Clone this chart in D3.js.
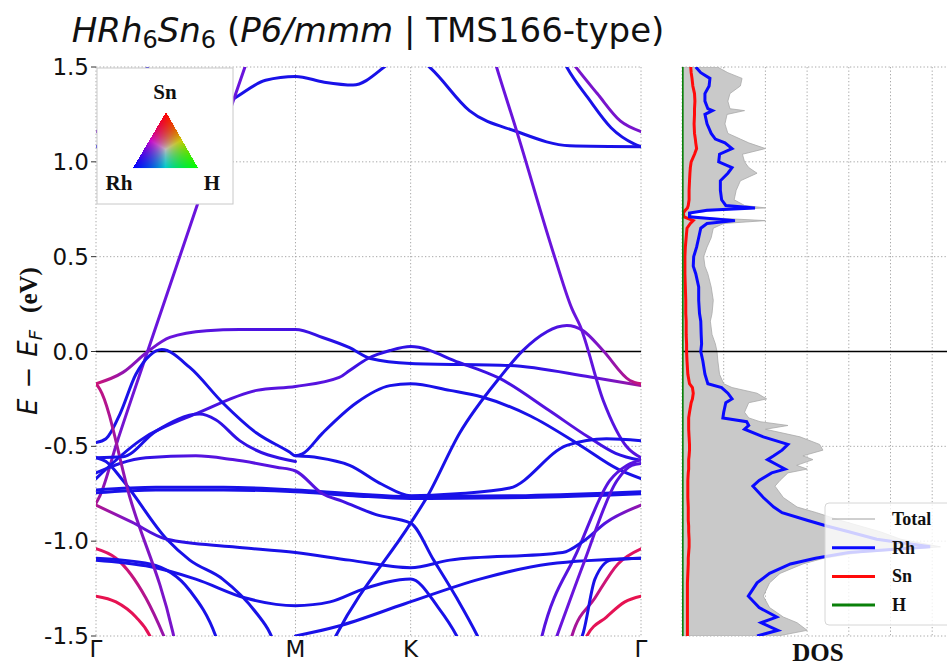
<!DOCTYPE html>
<html><head><meta charset="utf-8">
<script src="https://cdn.jsdelivr.net/npm/d3@7"></script>
<style>body{margin:0;background:#fff}svg{display:block}</style>
</head><body><svg id="chart" width="947" height="668"></svg>
<script>
// ---- k-path and axes ----
const kLabels = ["Γ", "M", "K", "Γ"];
const kDist = [0, 0.866, 1.366, 2.366];          // cumulative path length at Γ, M, K, Γ
const eTicks = [-1.5, -1.0, -0.5, 0.0, 0.5, 1.0, 1.5];
const eTickLabels = ["-1.5", "-1.0", "-0.5", "0.0", "0.5", "1.0", "1.5"];

// ---- bands: [path index (Γ=0, M=1, K=2, Γ=3), E - E_F (eV), Sn weight] ----
const band01 = [[0,1.08,.1],[0.3,1.17,.1],[0.685,1.33,.1],[0.85,1.43,.1],[1,1.45,.1],[1.25,1.42,.1],[1.5,1.405,.1],[1.77,1.5,.1],[1.95,1.6,.1],[2.09,1.49,.1],[2.255,1.27,.1],[2.46,1.16,.1],[2.69,1.085,.1],[3,1.08,.1]];
const band02 = [[0,1.16,.4],[0.1,1.22,.4],[0.2,1.36,.4],[0.32,1.6,.4],[2.6,1.7,.4],[2.72,1.495,.4],[2.81,1.36,.4],[2.91,1.216,.4],[3,1.16,.4]];
const band03 = [[0,1.08,.1],[0.1,1.12,.1],[0.2,1.28,.1],[0.3,1.6,.1],[2.6,1.7,.1],[2.68,1.495,.1],[2.77,1.337,.1],[2.87,1.18,.1],[2.97,1.095,.1],[3,1.08,.1]];
const band04 = [[0,-0.80,.6],[0.02,-0.76,.5],[0.105,-0.48,.4],[0.26,0.005,.35],[0.51,0.78,.35],[0.745,1.495,.35],[0.8,1.66,.35]];
const band05 = [[2.3,1.8,.35],[2.374,1.495,.35],[2.46,1.163,.35],[2.626,0.495,.35],[2.7,0.226,.35],[2.735,0.137,.35],[2.836,-0.258,.3],[2.94,-0.505,.3],[3,-0.56,.3]];
const band06 = [[0,-0.17,.7],[0.135,-0.11,.5],[0.26,0.0,.4],[0.37,0.074,.35],[0.555,0.11,.3],[0.72,0.116,.28],[1,0.116,.25],[1.235,0.074,.2],[1.47,0.02,.15],[1.65,-0.037,.1],[2,-0.063,.1],[2.43,-0.074,.15],[2.78,-0.135,.3],[3,-0.18,.55]];
const band07 = [[0,-0.67,.1],[0.22,-0.47,.15],[0.52,-0.32,.25],[0.805,-0.205,.3],[1,-0.184,.3],[1.38,-0.137,.3],[1.47,-0.1,.25],[1.63,-0.037,.2],[1.82,0.005,.2],[2,0.026,.2],[2.21,-0.058,.2],[2.387,-0.142,.25],[2.6,-0.31,.3],[2.77,-0.45,.3],[2.89,-0.537,.2],[3,-0.574,.15]];
const band08 = [[0,-0.48,.1],[0.05,-0.46,.1],[0.12,-0.33,.1],[0.2,-0.12,.1],[0.27,-0.02,.1],[0.33,0.01,.1],[0.47,-0.084,.1],[0.635,-0.27,.1],[0.805,-0.43,.1],[0.97,-0.53,.1],[1,-0.55,.1],[1.06,-0.54,.1],[1.235,-0.43,.1],[1.53,-0.27,.1],[1.82,-0.18,.1],[2,-0.17,.1],[2.17,-0.205,.1],[2.31,-0.24,.1],[2.52,-0.34,.1],[2.73,-0.49,.1],[2.9,-0.62,.1],[3,-0.67,.1]];
const band09 = [[1.3,-1.56,.1],[1.35,-1.5,.1],[2,-0.905,.1],[2.07,-0.77,.1],[2.213,-0.43,.1],[2.387,-0.137,.15],[2.487,0.005,.2],[2.678,0.137,.3],[2.748,0.11,.35],[2.835,0.005,.45],[2.952,-0.153,.6],[3,-0.17,.7]];
const band10 = [[1,-0.55,.1],[1.2,-0.56,.1],[1.47,-0.6,.1],[1.75,-0.7,.1],[2,-0.76,.1],[2.2,-0.75,.1],[2.43,-0.72,.1],[2.678,-0.495,.1],[2.85,-0.46,.1],[3,-0.47,.1]];
const band11 = [[0,-0.73,.1],[0.3,-0.716,.1],[0.64,-0.716,.1],[1,-0.73,.1],[1.5,-0.75,.1],[2,-0.765,.1],[2.5,-0.76,.1],[3,-0.74,.1]];
const band12 = [[0,-0.745,.1],[0.3,-0.73,.1],[0.64,-0.73,.1],[1,-0.74,.1],[1.5,-0.76,.1],[2,-0.775,.1],[2.5,-0.77,.1],[3,-0.75,.1]];
const band13 = [[0,-1.04,.8],[0.1,-1.09,.75],[0.25,-1.3,.6],[0.34,-1.5,.5],[0.36,-1.55,.5]];
const band14 = [[0,-1.29,.9],[0.1,-1.32,.88],[0.2,-1.4,.85],[0.27,-1.5,.85],[0.29,-1.55,.85]];
const band15 = [[0,-1.09,.1],[0.27,-1.12,.1],[0.47,-1.26,.1],[0.6,-1.5,.1],[0.62,-1.56,.1]];
const band16 = [[0,-1.1,.1],[0.25,-1.13,.1],[0.5,-1.2,.1],[0.75,-1.3,.1],[1,-1.34,.1],[1.3,-1.32,.1],[1.6,-1.25,.1],[2,-1.2,.1],[2.12,-1.35,.1],[2.2,-1.5,.1],[2.22,-1.55,.1]];
const band17 = [[2.75,-1.55,.85],[2.765,-1.5,.85],[2.85,-1.4,.85],[2.93,-1.32,.88],[3,-1.29,.9]];
const band18 = [[2.69,-1.55,.55],[2.7,-1.5,.55],[2.8,-1.3,.65],[2.9,-1.12,.75],[3,-1.04,.8]];
const band19 = [[2.56,-1.55,.3],[2.57,-1.5,.3],[2.725,-1.05,.3],[2.865,-0.68,.3],[2.94,-0.6,.3],[3,-0.57,.3]];
const band20 = [[0,-0.56,.1],[0.05,-0.58,.1],[0.135,-0.68,.1],[0.355,-0.99,.1],[0.47,-1.1,.1],[0.635,-1.2,.1],[0.805,-1.38,.1],[0.87,-1.48,.1],[0.9,-1.55,.1]];
const band21 = [[0,-0.64,.1],[0.25,-0.56,.2],[0.5,-0.55,.3],[0.685,-0.57,.3],[0.905,-0.61,.3],[1,-0.63,.3],[1.235,-0.75,.3],[1.41,-0.79,.25],[1.7,-0.86,.1],[2,-0.905,.1],[2.1,-1.1,.1],[2.2,-1.3,.1],[2.29,-1.5,.1],[2.31,-1.55,.1]];
const band22 = [[1,-1.5,.1],[1.36,-1.45,.1],[1.95,-1.33,.1],[2.3,-1.2,.1],[2.6,-1.12,.1],[3,-1.09,.1]];
const band23 = [[0,-0.17,.7],[0.02,-0.2,.65],[0.17,-0.77,.45],[0.385,-1.48,.4],[0.4,-1.55,.4]];
const band24 = [[0,-0.56,.1],[0.135,-0.555,.1],[0.3,-0.42,.15],[0.52,-0.33,.2],[0.6,-0.36,.2],[0.72,-0.47,.2],[1,-0.58,.2]];
const band25 = [[0,-0.81,.6],[0.18,-0.9,.4],[0.355,-0.99,.2],[0.685,-1.03,.1],[1,-1.06,.1],[1.47,-1.1,.1],[2,-1.14,.1],[2.17,-1.1,.1],[2.66,-1.06,.1],[2.75,-1.0,.15],[2.85,-0.9,.3],[3,-0.81,.5]];
const band26 = [[2.62,-1.55,.35],[2.635,-1.5,.35],[2.75,-1.12,.35],[2.896,-0.68,.3],[2.96,-0.6,.3],[3,-0.59,.3]];
const band27 = [[2.73,-1.55,.1],[2.75,-1.48,.1],[2.8,-1.2,.1],[2.87,-1.1,.1],[3,-1.09,.1]];
const bands = [band01,band02,band03,band04,band05,band06,band07,band08,band09,band10,band11,band12,band13,band14,
               band15,band16,band17,band18,band19,band20,band21,band22,band23,band24,band25,band26,band27];

// ---- density of states (states/eV) ----
const dosEnergy = [1.50,1.47,1.44,1.40,1.36,1.32,1.28,1.27,1.25,1.20,1.15,1.12,1.10,1.07,1.04,1.00,0.97,0.94,0.90,0.85,0.80,0.77,0.757,0.745,0.73,0.71,0.69,0.675,0.65,0.60,0.55,0.50,0.45,0.41,0.34,0.27,0.20,0.16,0.09,0.04,0.00,-0.05,-0.12,-0.17,-0.19,-0.22,-0.25,-0.27,-0.32,-0.35,-0.37,-0.39,-0.41,-0.45,-0.49,-0.52,-0.55,-0.57,-0.60,-0.62,-0.64,-0.68,-0.71,-0.77,-0.82,-0.85,-0.89,-0.92,-0.95,-0.99,-1.03,-1.06,-1.09,-1.12,-1.17,-1.22,-1.29,-1.35,-1.40,-1.43,-1.47,-1.50];
const dosTotal  = [0.85,1.10,1.44,1.40,1.15,1.10,1.15,1.50,1.08,1.03,1.10,1.40,1.60,2.00,1.45,1.50,1.60,1.80,1.40,1.30,1.25,1.50,2.00,0.90,0.20,0.25,2.00,1.00,0.75,0.70,0.60,0.52,0.55,0.62,0.70,0.75,0.72,0.68,0.72,0.80,0.84,0.86,0.90,1.00,1.20,1.80,2.03,1.60,1.50,1.60,1.87,2.54,2.00,2.83,3.30,3.38,2.90,3.14,2.75,3.00,2.54,2.35,2.23,2.43,2.76,3.23,3.79,4.27,4.75,5.25,6.20,4.27,3.40,2.90,2.35,2.10,1.95,2.10,2.43,2.76,3.00,2.30];
const dosRh     = [0.33,0.45,0.67,0.65,0.55,0.55,0.62,0.73,0.55,0.60,0.70,0.80,1.03,1.20,0.90,0.88,1.20,1.10,0.92,0.92,0.95,1.05,1.75,0.60,0.18,0.18,1.27,0.60,0.45,0.40,0.35,0.28,0.27,0.33,0.40,0.40,0.42,0.45,0.46,0.47,0.45,0.50,0.55,0.62,0.95,1.10,1.20,1.05,1.00,0.98,1.55,1.60,1.50,1.95,2.54,2.40,2.20,2.05,2.30,2.47,2.15,1.85,1.70,1.95,2.20,2.40,3.00,3.47,4.00,4.67,5.95,4.00,3.20,2.60,2.10,1.80,1.59,1.85,2.27,1.90,2.30,1.80];
const dosSn     = [0.21,0.22,0.24,0.26,0.30,0.31,0.30,0.30,0.30,0.29,0.30,0.32,0.33,0.35,0.30,0.22,0.20,0.19,0.18,0.17,0.17,0.15,0.13,0.08,0.03,0.05,0.27,0.20,0.12,0.10,0.08,0.07,0.07,0.07,0.08,0.09,0.09,0.10,0.10,0.11,0.11,0.12,0.14,0.18,0.25,0.27,0.25,0.22,0.18,0.16,0.16,0.16,0.16,0.17,0.18,0.18,0.17,0.16,0.16,0.16,0.15,0.14,0.14,0.14,0.15,0.15,0.15,0.16,0.16,0.17,0.17,0.16,0.15,0.15,0.14,0.13,0.13,0.13,0.13,0.13,0.13,0.13];
const hEnergy = [1.50, 0.70, 0.00, -0.70, -1.50];
const dosH    = [0.01, 0.01, 0.01, 0.01, 0.01];
const dosTicks = [0, 1, 2, 3, 4, 5, 6];

const legendNames = ["Total", "Rh", "Sn", "H"];
const legendColors = ["#a0a0a0", "#0a0aff", "#ff0a0a", "#0a800a"];

// ---- layout ----
const svg = d3.select("#chart");
const P = {l: 96, r: 641, t: 67, b: 636};
const D = {l: 682, r: 682 + 6.7 * 41.7};

const idxToK = d3.scaleLinear().domain([0, 1, 2, 3]).range(kDist);
const x = d3.scaleLinear().domain([0, kDist[3]]).range([P.l, P.r]);
const y = d3.scaleLinear().domain([-1.5, 1.5]).range([P.b, P.t]);
const xd = d3.scaleLinear().domain([0, 6.7]).range([D.l, D.r]);

const gridStyle = s => s.attr("stroke", "#a8a8a8").attr("stroke-width", 1).attr("stroke-dasharray", "1.3,2.2").attr("fill", "none");

const defs = svg.append("defs");
defs.append("clipPath").attr("id", "bandClip").append("rect")
  .attr("x", P.l).attr("y", P.t).attr("width", P.r - P.l).attr("height", P.b - P.t);
defs.append("clipPath").attr("id", "dosClip").append("rect")
  .attr("x", D.l).attr("y", P.t).attr("width", D.r - D.l).attr("height", P.b - P.t);

// ---- band panel grid ----
const gB = svg.append("g");
gB.selectAll("line.vg").data(kDist).join("line")
  .attr("x1", d => x(d)).attr("x2", d => x(d)).attr("y1", P.t).attr("y2", P.b).call(gridStyle);
gB.selectAll("line.hg").data(eTicks.filter(e => e !== 0)).join("line")
  .attr("x1", P.l).attr("x2", P.r).attr("y1", d => y(d)).attr("y2", d => y(d)).call(gridStyle);
gB.append("line").attr("x1", P.l).attr("x2", P.r).attr("y1", y(0)).attr("y2", y(0))
  .attr("stroke", "#000").attr("stroke-width", 1.3);

// ---- bands with colour graded by Sn weight ----
const snColor = d3.scaleLinear().domain([0, 0.15, 0.35, 0.55, 0.75, 1])
  .range(["#1212e8", "#1c10e8", "#6a14dc", "#a2149c", "#dc1468", "#f0103c"]).interpolate(d3.interpolateRgb);
const line = d3.line().x(d => x(idxToK(d[0]))).y(d => y(d[1])).curve(d3.curveMonotoneX);
const gLines = svg.append("g").attr("clip-path", "url(#bandClip)");
bands.forEach((b, i) => {
  const xs = b.map(d => x(idxToK(d[0])));
  const x0 = d3.min(xs), x1 = d3.max(xs);
  const grad = defs.append("linearGradient").attr("id", "bg" + i)
    .attr("gradientUnits", "userSpaceOnUse").attr("x1", x0).attr("x2", x1).attr("y1", 0).attr("y2", 0);
  b.forEach((d, j) => grad.append("stop")
    .attr("offset", (xs[j] - x0) / Math.max(1e-6, x1 - x0)).attr("stop-color", snColor(d[2])));
  gLines.append("path").attr("d", line(b)).attr("fill", "none")
    .attr("stroke", `url(#bg${i})`).attr("stroke-width", 3).attr("stroke-linecap", "round");
});

// ---- band panel axes ----
svg.append("g").selectAll("line").data(eTicks).join("line")
  .attr("x1", P.l - 5).attr("x2", P.l).attr("y1", d => y(d)).attr("y2", d => y(d))
  .attr("stroke", "#333").attr("stroke-width", 1);
svg.append("g").selectAll("text").data(eTicks).join("text")
  .attr("x", P.l - 7).attr("y", d => y(d) + 8).attr("text-anchor", "end")
  .style("font-family", "DejaVu Sans").style("font-size", "23px").attr("fill", "#111")
  .text((d, i) => eTickLabels[i]);
svg.append("g").selectAll("text").data(kDist).join("text")
  .attr("x", d => x(d)).attr("y", 657).attr("text-anchor", "middle")
  .style("font-family", "DejaVu Sans").style("font-size", "23px").attr("fill", "#111")
  .text((d, i) => kLabels[i]);

// y-axis title
const yl = svg.append("text").attr("transform", "translate(37,341) rotate(-90)")
  .attr("text-anchor", "middle").attr("fill", "#111");
yl.append("tspan").style("font-family", "DejaVu Sans").style("font-style", "italic").style("font-size", "26px").text("E");
yl.append("tspan").style("font-family", "DejaVu Sans").style("font-size", "26px").attr("dx", 10).text("−");
yl.append("tspan").style("font-family", "DejaVu Sans").style("font-style", "italic").style("font-size", "26px").attr("dx", 10).text("E");
yl.append("tspan").style("font-family", "DejaVu Sans").style("font-style", "italic").style("font-size", "18px").attr("dy", 5).text("F");
yl.append("tspan").style("font-family", "Liberation Serif").style("font-weight", "bold").style("font-size", "25px").attr("dy", -5).attr("dx", 17).text("(eV)");

// title
const tt = svg.append("text").attr("x", 368).attr("y", 42).attr("text-anchor", "middle")
  .style("font-family", "DejaVu Sans").style("font-size", "34px").attr("fill", "#111");
tt.append("tspan").style("font-style", "italic").text("HRh");
tt.append("tspan").style("font-size", "24px").attr("dy", 6).text("6");
tt.append("tspan").style("font-style", "italic").attr("dy", -6).text("Sn");
tt.append("tspan").style("font-size", "24px").attr("dy", 6).text("6");
tt.append("tspan").attr("dy", -6).text(" (");
tt.append("tspan").style("font-style", "italic").text("P6/mmm");
tt.append("tspan").text(" | TMS166-type)");

// ---- ternary colour key ----
const tern = svg.append("g");
tern.append("rect").attr("x", 97).attr("y", 68).attr("width", 136).attr("height", 136)
  .attr("fill", "#fff").attr("stroke", "#c8c8c8").attr("stroke-width", 1);
const vSn = [166, 112], vRh = [133, 168], vH = [198, 168];
const cells = [];
for (let py = 112; py < 168; py++) {
  for (let px = 133; px < 198; px++) {
    const cx = px + 0.5, cy = py + 0.5;
    const det = (vRh[1] - vH[1]) * (vSn[0] - vH[0]) + (vH[0] - vRh[0]) * (vSn[1] - vH[1]);
    const a = ((vRh[1] - vH[1]) * (cx - vH[0]) + (vH[0] - vRh[0]) * (cy - vH[1])) / det;
    const b = ((vH[1] - vSn[1]) * (cx - vH[0]) + (vSn[0] - vH[0]) * (cy - vH[1])) / det;
    const c = 1 - a - b;
    if (a < 0 || b < 0 || c < 0) continue;
    const m = Math.max(a, b, c);
    const f = w => Math.round(Math.min(255, 255 * (0.6 * w / m + 0.4 * w)));
    cells.push({px, py, col: `rgb(${f(a)},${f(c)},${f(b)})`});
  }
}
tern.selectAll("rect.c").data(cells).join("rect").attr("class", "c")
  .attr("x", d => d.px).attr("y", d => d.py).attr("width", 1.05).attr("height", 1.05).attr("fill", d => d.col);
const ternText = [["Sn", 165, 99], ["Rh", 119, 190], ["H", 212, 190]];
tern.selectAll("text").data(ternText).join("text")
  .attr("x", d => d[1]).attr("y", d => d[2]).attr("text-anchor", "middle")
  .style("font-family", "Liberation Serif").style("font-weight", "bold").style("font-size", "21px")
  .attr("fill", "#111").text(d => d[0]);

// ---- DOS panel ----
const gD = svg.append("g");
gD.selectAll("line.vg").data(dosTicks).join("line")
  .attr("x1", d => xd(d)).attr("x2", d => xd(d)).attr("y1", P.t).attr("y2", P.b).call(gridStyle);
gD.selectAll("line.hg").data(eTicks.filter(e => e !== 0)).join("line")
  .attr("x1", D.l).attr("x2", D.r).attr("y1", d => y(d)).attr("y2", d => y(d)).call(gridStyle);

const gDos = svg.append("g").attr("clip-path", "url(#dosClip)");
const totalPts = dosEnergy.map((e, i) => [e, dosTotal[i]]);
gDos.append("path").datum(totalPts)
  .attr("d", d3.area().y(d => y(d[0])).x0(xd(0)).x1(d => xd(d[1])))
  .attr("fill", "#c9c9c9").attr("stroke", "#a9a9a9").attr("stroke-width", 0.8);
gDos.append("line").attr("x1", D.l).attr("x2", D.r).attr("y1", y(0)).attr("y2", y(0))
  .attr("stroke", "#000").attr("stroke-width", 1.3);
const dline = d3.line().y(d => y(d[0])).x(d => xd(d[1]));
gDos.append("path").datum(dosEnergy.map((e, i) => [e, dosSn[i]])).attr("d", dline)
  .attr("fill", "none").attr("stroke", legendColors[2]).attr("stroke-width", 3);
gDos.append("path").datum(hEnergy.map((e, i) => [e, dosH[i]])).attr("d", dline)
  .attr("fill", "none").attr("stroke", legendColors[3]).attr("stroke-width", 2.5);
gDos.append("path").datum(dosEnergy.map((e, i) => [e, dosRh[i]])).attr("d", dline)
  .attr("fill", "none").attr("stroke", legendColors[1]).attr("stroke-width", 3);

svg.append("text").attr("x", 818).attr("y", 661).attr("text-anchor", "middle")
  .style("font-family", "Liberation Serif").style("font-weight", "bold").style("font-size", "25px")
  .attr("fill", "#111").text("DOS");

// DOS legend
const lg = svg.append("g");
lg.append("rect").attr("x", 825).attr("y", 503).attr("width", 140).attr("height", 122).attr("rx", 4)
  .attr("fill", "#fff").attr("fill-opacity", 0.8).attr("stroke", "#d6d6d6");
legendNames.forEach((n, i) => {
  const yy = 519 + i * 28.7;
  lg.append("line").attr("x1", 832).attr("x2", 875).attr("y1", yy).attr("y2", yy)
    .attr("stroke", legendColors[i]).attr("stroke-width", i === 0 ? 1 : 3);
  lg.append("text").attr("x", 892).attr("y", yy + 6)
    .style("font-family", "Liberation Serif").style("font-weight", "bold").style("font-size", "18px")
    .attr("fill", "#111").text(n);
});
</script></body></html>
